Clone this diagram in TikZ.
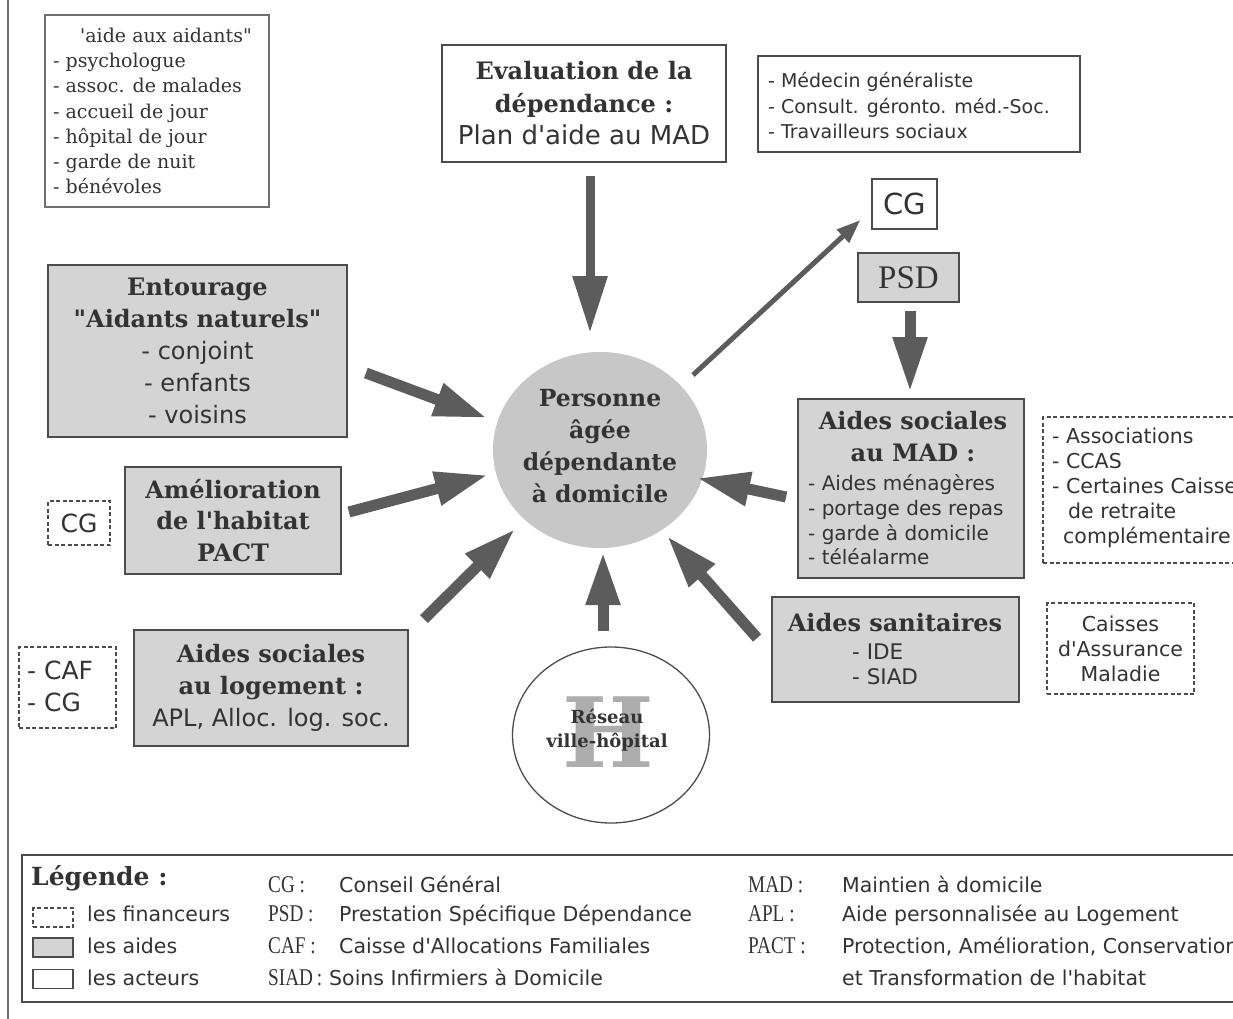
\documentclass[tikz,border=0pt]{standalone}
\usepackage{fontspec}
\setmainfont{DejaVu Serif}[Ligatures=TeXOff]
\newfontfamily\ssf{DejaVu Sans}[Ligatures=TeXOff]
\newfontfamily\tms{Liberation Serif}
\newfontfamily\tmsc{Liberation Serif}[FakeStretch=0.8]
\usetikzlibrary{arrows.meta,shapes.geometric}
\newcommand\myfs[2]{\fontsize{#1}{#2}\selectfont}
\definecolor{txt}{gray}{0.2}
\definecolor{bord}{gray}{0.3}
\definecolor{aidec}{gray}{0.83}
\definecolor{persc}{gray}{0.78}
\definecolor{arrc}{gray}{0.36}
\definecolor{hgray}{gray}{0.68}
\tikzset{
 aidebox/.style={draw=bord, line width=1.8pt, fill=aidec, inner sep=0pt, text=txt},
 actbox/.style={draw=bord, line width=1.4pt, fill=white, inner sep=0pt, text=txt},
 finbox/.style={draw=bord, line width=1.1pt, dash pattern=on 4pt off 2.5pt, fill=white, inner sep=0pt, text=txt},
 txtnode/.style={inner sep=0pt, text=txt},
 bigarrow/.style={draw=arrc, line width=11pt, -{Triangle[length=53pt,width=32pt]}},
 thinarrow/.style={draw=arrc, line width=5pt, -{Triangle[length=24pt,width=17pt]}},
 abbr/.style={txtnode, anchor=base west, font=\tmsc\myfs{24}{26}},
 defn/.style={txtnode, anchor=base west, font=\ssf\myfs{20.5}{22}},
}
\begin{document}
\begin{tikzpicture}[x=1pt,y=-1pt]
\useasboundingbox (0,0) rectangle (1233,1019);
\fill[white] (0,0) rectangle (1233,1019);
\draw[bord!80, line width=1.4pt] (8,0) -- (8,1019);

% top-left actors box
\node[actbox, line width=1.1pt, draw=bord!80, minimum width=224pt, minimum height=192pt] (aid) at (157,111) {};
\node[txtnode, anchor=west, align=left, font=\myfs{19}{25.3}] (aidt) at (53,111)
 {\hspace*{27pt}'aide aux aidants"\\- psychologue\\- assoc. de malades\\- accueil de jour\\- hôpital de jour\\- garde de nuit\\- bénévoles};

% evaluation
\node[actbox, line width=2.4pt, minimum width=284pt, minimum height=117pt, align=center, font=\bfseries\myfs{24}{32.5}] (eval) at (584,103.5)
 {Evaluation de la\\dépendance~:\\{\mdseries\ssf\myfs{26}{32.5}Plan d'aide au MAD}};

% medecin
\node[actbox, line width=1.1pt, minimum width=322pt, minimum height=96pt] (med) at (919,104) {};
\node[txtnode, anchor=west, align=left, font=\ssf\myfs{19}{25.5}] (medt) at (768,106)
 {- Médecin généraliste\\- Consult. géronto. méd.-Soc.\\- Travailleurs sociaux};

% CG and PSD top right
\node[actbox, line width=1.1pt, minimum width=65pt, minimum height=50pt, font=\ssf\myfs{29}{30}] (cgt) at (904.5,204) {CG};
\node[aidebox, minimum width=101pt, minimum height=49pt, font=\tms\myfs{33}{35}] (psd) at (908.5,277.5) {PSD};

% Entourage
\node[aidebox, minimum width=299pt, minimum height=172pt, align=center, font=\myfs{24}{32}] (ent) at (197.5,351)
 {{\bfseries Entourage}\\{\bfseries "Aidants naturels"}\\{\ssf - conjoint}\\{\ssf - enfants}\\{\ssf - voisins}};

% Amelioration
\node[aidebox, minimum width=216pt, minimum height=107pt, align=center, font=\bfseries\myfs{24}{31.5}] (amel) at (233,520.5)
 {Amélioration\\de l'habitat\\PACT};
\node[finbox, minimum width=62pt, minimum height=44pt, font=\ssf\myfs{25}{27}] (cgl) at (79,523) {CG};

% Logement
\node[aidebox, minimum width=274pt, minimum height=116pt, align=center, font=\myfs{24}{32}] (log) at (271,688)
 {{\bfseries Aides sociales}\\{\bfseries au logement~:}\\{\ssf APL, Alloc. log. soc.}};
\node[finbox, minimum width=97pt, minimum height=81pt] (caf) at (67.5,687.5) {};
\node[txtnode, anchor=west, align=left, font=\ssf\myfs{25}{32}] (caft) at (27,686) {- CAF\\- CG};

% central person
\node[ellipse, fill=persc, minimum width=214pt, minimum height=196pt, inner sep=0pt] (pers) at (600,450) {};
\node[txtnode, align=center, font=\bfseries\myfs{23.5}{32}] (perst) at (600,446.5) {Personne\\âgée\\dépendante\\à domicile};

% hospital
\node[ellipse, draw=bord, line width=1.3pt, fill=white, minimum width=197pt, minimum height=176pt, inner sep=0pt] (hosp) at (611,735) {};
\node[inner sep=0pt, text=hgray, font=\bfseries\myfs{97}{97}] (hH) at (608,732.5) {H};
\node[txtnode, align=center, font=\bfseries\myfs{18}{24.5}] (hospt) at (607,730) {Réseau\\ville-hôpital};

% aides sociales au MAD
\node[aidebox, minimum width=226pt, minimum height=179pt] (mad) at (911,488.5) {};
\node[txtnode, align=center, font=\bfseries\myfs{24}{32}] (madh) at (913,437) {Aides sociales\\au MAD~:};
\node[txtnode, anchor=west, align=left, font=\ssf\myfs{20}{24.7}] (madl) at (808,520)
 {- Aides ménagères\\- portage des repas\\- garde à domicile\\- téléalarme};

% associations
\node[finbox, minimum width=207pt, minimum height=146pt] (asso) at (1146.5,490) {};
\node[txtnode, anchor=west, align=left, font=\ssf\myfs{20.5}{25}] (assot) at (1052,488)
 {- Associations\\- CCAS\\- Certaines Caisses\\\hspace*{16pt}de retraite\\\hspace*{11pt}complémentaire};

% aides sanitaires
\node[aidebox, minimum width=247pt, minimum height=105pt] (san) at (895.5,649.5) {};
\node[txtnode, font=\bfseries\myfs{24}{30}] (sanh) at (895,623) {Aides sanitaires};
\node[txtnode, anchor=west, align=left, font=\ssf\myfs{21.5}{25}] (sanl) at (852,664.5) {- IDE\\- SIAD};

% caisses
\node[finbox, minimum width=147pt, minimum height=91pt, align=center, font=\ssf\myfs{20.5}{25}] (cam) at (1120.5,648.5)
 {Caisses\\d'Assurance\\Maladie};

% arrows
\draw[bigarrow, line width=9pt, -{Triangle[length=57pt,width=33pt]}] ([shift={(6,13)}]eval.south) -- ([shift={(-10,-117)}]pers.center);
\draw[bigarrow] ([shift={(18,22)}]ent.east) -- ([shift={(-113,-32)}]pers.center);
\draw[bigarrow] ([shift={(7,-8.5)}]amel.east) -- ([shift={(-112,25)}]pers.center);
\draw[bigarrow] ([shift={(15,-10)}]log.north east) -- ([shift={(-85,79)}]pers.center);
\draw[bigarrow] ([shift={(-8,-15)}]hosp.north) -- ([shift={(3,102)}]pers.center);
\draw[bigarrow] ([shift={(-14,-11.5)}]san.west) -- ([shift={(67,86)}]pers.center);
\draw[bigarrow] ([shift={(-11,8.5)}]mad.west) -- ([shift={(97,28)}]pers.center);
\draw[thinarrow] ([shift={(93,-75)}]pers.center) -- ([shift={(-11,16)}]cgt.west);
\draw[bigarrow, -{Triangle[length=55pt,width=32pt]}] ([shift={(1.5,8)}]psd.south) -- ([shift={(-1,-6)}]mad.north);

% legend
\node[draw=bord, line width=2.6pt, minimum width=1228pt, minimum height=147pt, inner sep=0pt] (leg) at (636,928.5) {};
\node[txtnode, anchor=base west, font=\bfseries\myfs{25}{27}] (legt) at (31,885) {Légende~:};
\node[finbox, minimum width=40pt, minimum height=19pt] (lsq1) at (53,917.5) {};
\node[aidebox, line width=1.3pt, minimum width=40pt, minimum height=19pt] (lsq2) at (53,947.5) {};
\node[actbox, line width=1.1pt, minimum width=40pt, minimum height=19pt] (lsq3) at (53,979) {};
\node[defn] (ll1) at (87,921) {les financeurs};
\node[defn] (ll2) at (87,953) {les aides};
\node[defn] (ll3) at (87,985) {les acteurs};
\node[abbr] (a1) at (268,892) {CG~:};
\node[abbr] (a2) at (268,921) {PSD~:};
\node[abbr] (a3) at (268,953) {CAF~:};
\node[abbr] (a4) at (268,985) {SIAD\,:};
\node[defn] (d1) at (339,892) {Conseil Général};
\node[defn] (d2) at (339,921) {Prestation Spécifique Dépendance};
\node[defn] (d3) at (339,953) {Caisse d'Allocations Familiales};
\node[defn] (d4) at (329,985) {Soins Infirmiers à Domicile};
\node[abbr] (b1) at (748,892) {MAD~:};
\node[abbr] (b2) at (748,921) {APL~:};
\node[abbr] (b3) at (748,953) {PACT~:};
\node[defn] (e1) at (842,892) {Maintien à domicile};
\node[defn] (e2) at (842,921) {Aide personnalisée au Logement};
\node[defn] (e3) at (842,953) {Protection, Amélioration, Conservation};
\node[defn] (e4) at (842,985) {et Transformation de l'habitat};
\end{tikzpicture}
\end{document}
